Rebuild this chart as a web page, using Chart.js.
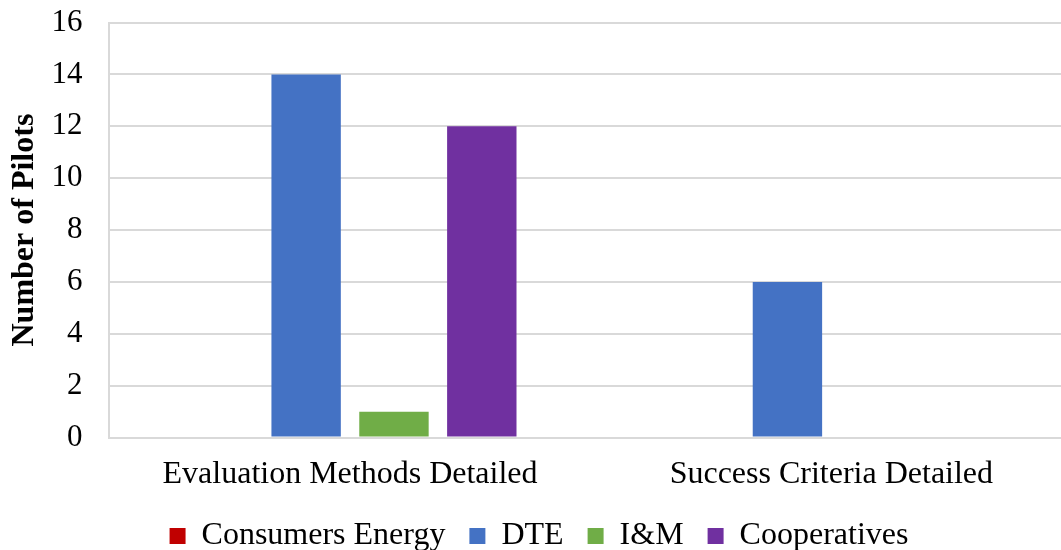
<!DOCTYPE html>
<html>
<head>
<meta charset="utf-8">
<script src="https://cdn.jsdelivr.net/npm/chart.js@4"></script>
<style>
  html, body { margin: 0; padding: 0; background: #fff; overflow: hidden; }
  #wrap { position: relative; width: 1072px; height: 550px; }
</style>
</head>
<body>
<div id="wrap"><canvas id="chart"></canvas></div>
<script>
// data
const categories = ['Evaluation Methods Detailed', 'Success Criteria Detailed'];
const consumersEnergy = [0, 0];
const dte = [14, 6];
const iandm = [1, 0];
const cooperatives = [12, 0];
const yTicks = [0, 2, 4, 6, 8, 10, 12, 14, 16];

const serif = "'Liberation Serif', 'Times New Roman', serif";

const ctx = document.getElementById('chart').getContext('2d');
const chart = new Chart(ctx, {
    type: 'bar',
    data: {
        labels: categories,
        datasets: [
            { label: 'Consumers Energy', data: consumersEnergy, backgroundColor: '#C00000' },
            { label: 'DTE', data: dte, backgroundColor: '#4472C4' },
            { label: 'I&M', data: iandm, backgroundColor: '#70AD47' },
            { label: 'Cooperatives', data: cooperatives, backgroundColor: '#7030A0' }
        ]
    },
    options: {
        responsive: true,
        maintainAspectRatio: false,
        animation: false,
        datasets: {
            bar: { categoryPercentage: 0.73, barPercentage: 0.79 }
        },
        layout: { padding: { top: 0, right: 0, left: 6, bottom: -12 } },
        plugins: {
            tooltip: { enabled: false },
            legend: {
                position: 'bottom',
                labels: {
                    boxWidth: 16,
                    boxHeight: 16,
                    padding: 8,
                    color: '#000',
                    font: { family: serif, size: 32 },
                    // trailing spaces widen the gap between entries, like the original
                    generateLabels: (c) => {
                        const items = Chart.defaults.plugins.legend.labels.generateLabels(c);
                        items.forEach((it, i) => {
                            if (i < items.length - 1) it.text = it.text + '  ';
                        });
                        return items;
                    }
                }
            }
        },
        scales: {
            x: {
                grid: { display: false, drawTicks: false },
                border: { display: true, color: '#d9d9d9', width: 2 },
                ticks: {
                    color: '#000',
                    padding: 18,
                    maxRotation: 0,
                    font: { family: serif, size: 32 }
                }
            },
            y: {
                min: 0,
                max: 16,
                afterBuildTicks: (axis) => { axis.ticks = yTicks.map(v => ({ value: v })); },
                grid: {
                    color: '#d9d9d9',
                    lineWidth: 2,
                    drawTicks: true,
                    tickLength: 23,
                    tickColor: 'rgba(0,0,0,0)'
                },
                border: { display: true, color: '#d9d9d9', width: 2 },
                ticks: {
                    color: '#000',
                    padding: 4,
                    font: { family: serif, size: 31 }
                },
                title: {
                    display: true,
                    text: 'Number of Pilots',
                    color: '#000',
                    padding: { top: 0, bottom: 3 },
                    font: { family: serif, size: 32, weight: 'bold' }
                }
            }
        }
    }
});
</script>
</body>
</html>
